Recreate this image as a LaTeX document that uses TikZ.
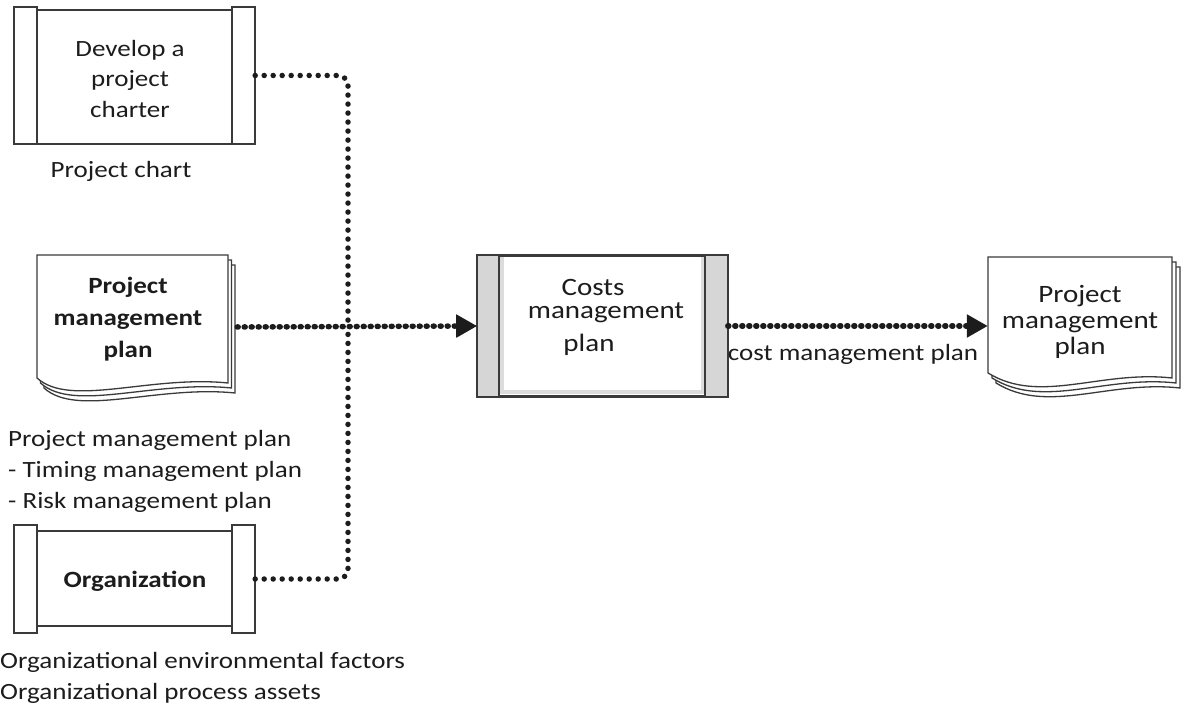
\documentclass[tikz,border=0pt]{standalone}
\usepackage{fontspec}
\setmainfont{Carlito}[FakeStretch=1.16]
\usetikzlibrary{arrows.meta,calc}
\definecolor{ink}{HTML}{1C1C1C}
\definecolor{edge}{HTML}{3A3A3A}
\definecolor{strip}{HTML}{D6D6D6}
\definecolor{rim}{HTML}{DCDCDC}
\tikzset{
  frame/.style={draw=edge, line width=1.6pt},
  txt/.style={text=ink, font=\fontsize{23.3}{31}\selectfont, align=center, inner sep=0pt},
  boldtxt/.style={txt, font=\fontsize{23.3}{32}\selectfont\bfseries},
  bigtxt/.style={txt, font=\fontsize{25}{26}\selectfont},
  hold/.style={draw=none, inner sep=0pt, minimum width=#1},
  flow/.style={draw=ink, line width=5.5pt, dash pattern=on 0pt off 9pt, line cap=round},
  flowdense/.style={draw=ink, line width=5.5pt, dash pattern=on 1pt off 6pt, line cap=round},
  tip/.style={-{Triangle[length=21pt,width=22pt]}},
  page/.style={draw=edge, line width=1.3pt, fill=white},
}
\begin{document}
\begin{tikzpicture}[x=1pt, y=-1pt]
\useasboundingbox (0,0) rectangle (1184,708);

% process: develop a project charter
\draw[frame] (37,10) rectangle (232,144);
\draw[frame, fill=white] (14,7) rectangle (37,144);
\draw[frame, fill=white] (232,7) rectangle (255,144);
\node[hold=241pt, minimum height=137pt] (dev) at (134.5,75.5) {};
\node[txt] (devtxt) at (130,79) {Develop a\\project\\charter};
\node[txt] (chartlbl) at (121,171) {Project chart};

% document stack: project management plan (input)
\foreach \d in {2,1,0}{
  \draw[page, shift={(3.5*\d,5*\d)}] (37,255) -- (228,255) -- (228,383)
    .. controls (150,375) and (70,408) .. (37,378) -- cycle;
}
\node[hold=200pt, minimum height=140pt] (pmp) at (137,327) {};
\node[boldtxt] (pmptxt) at (128,319) {Project\\management\\plan};
\node[txt, align=left, anchor=west] (pmplbl) at (8,471)
  {Project management plan\\- Timing management plan\\- Risk management plan};

% process: organization
\draw[frame] (37,531) rectangle (232,626);
\draw[frame, fill=white] (14,525) rectangle (37,633);
\draw[frame, fill=white] (232,525) rectangle (255,633);
\node[hold=241pt, minimum height=108pt] (org) at (134.5,579) {};
\node[boldtxt] (orgtxt) at (135,581) {Organization};
\node[txt, align=left, anchor=west] (orglbl) at (0,678)
  {Organizational environmental factors\\Organizational process assets};

% process: costs management plan
\node[frame, fill=white, minimum width=249pt, minimum height=140pt, inner sep=0pt] (cost) at (602.5,326) {};
\draw[draw=rim, line width=4pt] ($(cost.north west)+(25,2)$) -- ($(cost.south west)+(25,-5)$)
  -- ($(cost.south east)+(-25,-5)$) -- ($(cost.north east)+(-25,2)$);
\draw[frame, fill=strip] (cost.north west) rectangle ($(cost.south west)+(22,0)$);
\draw[frame, fill=strip] ($(cost.north east)+(-23,0)$) rectangle (cost.south east);
\draw[frame] (cost.north west) rectangle (cost.south east);
\node[txt, font=\fontsize{25}{28}\selectfont] (costtxt1) at (593,287) {Costs};
\node[txt, font=\fontsize{25}{28}\selectfont] (costtxt2) at (606,313) {management};
\node[txt, font=\fontsize{25}{28}\selectfont] (costtxt3) at (589,345) {plan};

% document stack: project management plan (output)
\foreach \d in {2,1,0}{
  \draw[page, shift={(4*\d,5*\d)}] (988,257) -- (1172,257) -- (1172,378)
    .. controls (1100,370) and (1040,405) .. (988,373) -- cycle;
}
\node[hold=192pt, minimum height=146pt] (out) at (1084,326) {};
\node[bigtxt] (outtxt) at (1080,322) {Project\\management\\plan};

% connectors
\coordinate (jn) at (348,327);
\draw[flow, rounded corners=10pt] (dev.east) -| (jn);
\draw[flow, rounded corners=10pt] (org.east) -| (jn);
\draw[flowdense, tip] (pmp.east) -- (cost.west);
\draw[flowdense, tip] (cost.east) -- (out.west);
\node[txt] (outlbl) at (853,354) {cost management plan};
\end{tikzpicture}
\end{document}
